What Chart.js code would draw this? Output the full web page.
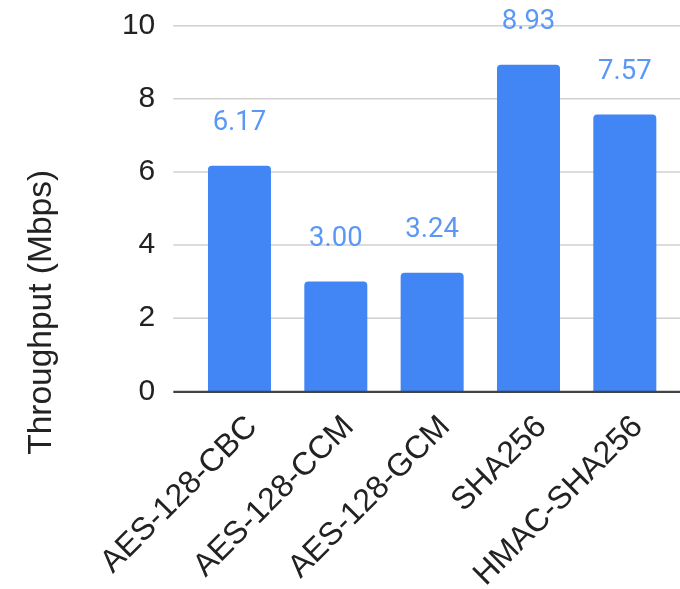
<!DOCTYPE html>
<html>
<head>
<meta charset="utf-8">
<script src="https://cdn.jsdelivr.net/npm/chart.js@4/dist/chart.umd.min.js"></script>
<style>
  html, body { margin: 0; padding: 0; background: #fff; }
  #wrap { width: 680px; height: 589px; }
</style>
</head>
<body>
<div id="wrap"><canvas id="c" width="680" height="589"></canvas></div>
<script>
const categories = ["AES-128-CBC", "AES-128-CCM", "AES-128-GCM", "SHA256", "HMAC-SHA256"];
const throughput = [6.17, 3.00, 3.24, 8.93, 7.57];
const yTicks = [0, 2, 4, 6, 8, 10];
const yTitle = "Throughput (Mbps)";

const BAR = "#4285F4";
const LABEL = "#5b97f5";
const GRID = "#d0d0d0";
const BASE = "#444444";
const TEXT = "#222222";
const AXIS_FONT = "'Liberation Sans', Arial, sans-serif";
const LABEL_FONT = "Roboto, 'Noto Sans', sans-serif";

const extras = {
  id: "extras",
  beforeDatasetsDraw(chart) {
    const { ctx, chartArea, scales } = chart;
    const y = scales.y;
    ctx.save();
    ctx.strokeStyle = GRID;
    ctx.lineWidth = 1.6;
    yTicks.forEach(v => {
      if (v === 0) return;
      const py = y.getPixelForValue(v);
      ctx.beginPath();
      ctx.moveTo(chartArea.left - 18, py);
      ctx.lineTo(chart.width, py);
      ctx.stroke();
    });
    ctx.restore();
  },
  afterDatasetsDraw(chart) {
    const { ctx, chartArea, scales } = chart;
    const y = scales.y;
    ctx.save();
    const p0 = y.getPixelForValue(0);
    ctx.strokeStyle = BASE;
    ctx.lineWidth = 2.4;
    ctx.beginPath();
    ctx.moveTo(chartArea.left - 18, p0 + 0.6);
    ctx.lineTo(chart.width, p0 + 0.6);
    ctx.stroke();
    const meta = chart.getDatasetMeta(0);
    ctx.fillStyle = LABEL;
    ctx.font = "27.5px " + LABEL_FONT;
    ctx.textAlign = "center";
    ctx.textBaseline = "middle";
    meta.data.forEach((bar, i) => {
      ctx.fillText(throughput[i].toFixed(2), bar.x, bar.y - 42.5);
    });
    ctx.fillStyle = TEXT;
    ctx.font = "33.5px " + AXIS_FONT;
    ctx.translate(chartArea.left - 150, (chartArea.top + chart.height) / 2 + 5);
    ctx.rotate(-Math.PI / 2);
    ctx.fillText(yTitle, 0, 0);
    ctx.restore();
  }
};

new Chart(document.getElementById("c"), {
  type: "bar",
  data: {
    labels: categories,
    datasets: [{
      data: throughput,
      backgroundColor: BAR,
      borderRadius: 4,
      borderSkipped: "start",
      categoryPercentage: 1,
      barPercentage: 0.654
    }]
  },
  options: {
    responsive: false,
    animation: false,
    devicePixelRatio: 1,
    layout: { padding: { top: 25.7, right: 7, left: 0, bottom: 0 } },
    plugins: {
      legend: { display: false },
      tooltip: { enabled: false }
    },
    scales: {
      x: {
        grid: { display: false },
        border: { display: false },
        ticks: {
          color: TEXT,
          font: { family: AXIS_FONT, size: 32 },
          minRotation: 45,
          maxRotation: 45,
          autoSkip: false,
          labelOffset: 13,
          padding: 9
        },
        afterFit(s) { s.height = 197.7; s.paddingLeft = 0; s.paddingRight = 0; }
      },
      y: {
        min: 0,
        max: 10,
        afterBuildTicks(s) { s.ticks = yTicks.map(v => ({ value: v })); },
        grid: { display: false },
        border: { display: false },
        ticks: {
          color: TEXT,
          font: { family: AXIS_FONT, size: 30 },
          padding: 28
        },
        afterFit(s) { s.width = 191.3; s.paddingTop = 0; s.paddingBottom = 0; }
      }
    }
  },
  plugins: [extras]
});
</script>
</body>
</html>
